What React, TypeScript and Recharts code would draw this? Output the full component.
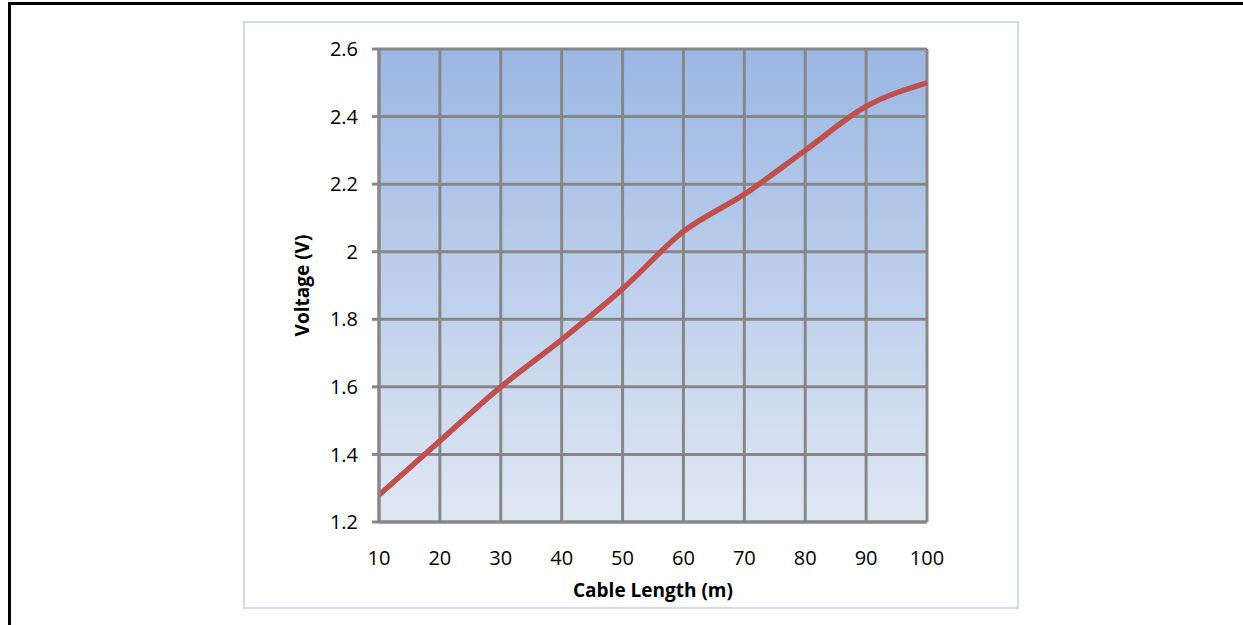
import { LineChart, Line, XAxis, YAxis, CartesianGrid, Label } from "recharts";

const cableLengths = [10, 20, 30, 40, 50, 60, 70, 80, 90, 100];
const voltages = [1.28, 1.44, 1.6, 1.74, 1.89, 2.06, 2.17, 2.3, 2.43, 2.5];
const xTicks = [10, 20, 30, 40, 50, 60, 70, 80, 90, 100];
const yTicks = [1.2, 1.4, 1.6, 1.8, 2, 2.2, 2.4, 2.6];

const data = cableLengths.map((len, i) => ({ len, v: voltages[i] }));

const FONT = "'Open Sans', sans-serif";
const GRID = "#878787";

function YTitle(props: any) {
  const vb = props.viewBox || {};
  const cx = vb.x + 3;
  const cy = vb.y + vb.height / 2;
  return (
    <text
      x={cx}
      y={cy}
      transform={`rotate(-90, ${cx}, ${cy})`}
      textAnchor="middle"
      dominantBaseline="central"
      fontFamily={FONT}
      fontWeight="bold"
      fontSize={19}
      fill="#000"
    >
      Voltage (V)
    </text>
  );
}

export default function App() {
  return (
    <div style={{ position: "absolute", left: 0, top: 0, width: 1243, height: 625, overflow: "hidden", background: "#fff" }}>
      {/* outer black frame */}
      <div
        style={{
          position: "absolute",
          left: 8,
          top: 2,
          width: 1260,
          height: 640,
          borderTop: "3px solid #000",
          borderLeft: "3px solid #000",
        }}
      />
      {/* chart box border */}
      <div
        style={{
          position: "absolute",
          left: 243,
          top: 21,
          width: 776,
          height: 588,
          boxSizing: "border-box",
          border: "2px solid #d3dbe7",
        }}
      />
      <div style={{ position: "absolute", left: 243, top: 21 }}>
        <LineChart width={776} height={588} data={data} margin={{ top: 28, right: 92, bottom: 27, left: 56 }}>
          <defs>
            <linearGradient id="plotBg" x1="0" y1="0" x2="0" y2="1">
              <stop offset="0%" stopColor="#9bb7e3" />
              <stop offset="100%" stopColor="#e0e7f3" />
            </linearGradient>
          </defs>
          <CartesianGrid stroke={GRID} strokeWidth={3} fill="url(#plotBg)" fillOpacity={1} />
          <XAxis
            dataKey="len"
            type="number"
            domain={[10, 100]}
            ticks={xTicks}
            height={60}
            axisLine={{ stroke: GRID, strokeWidth: 3 }}
            tickLine={false}
            tickSize={0}
            tickMargin={29}
            tick={{ fill: "#000", fontSize: 20, fontFamily: FONT }}
          >
            <Label
              value="Cable Length (m)"
              position="insideBottom"
              offset={-15}
              style={{ fill: "#000", fontSize: 19, fontWeight: "bold", fontFamily: FONT }}
            />
          </XAxis>
          <YAxis
            type="number"
            domain={[1.2, 2.6]}
            ticks={yTicks}
            width={80}
            tickFormatter={(v: number) => String(v)}
            axisLine={{ stroke: GRID, strokeWidth: 3 }}
            tickLine={{ stroke: GRID, strokeWidth: 3 }}
            tickSize={7}
            tickMargin={14}
            tick={{ fill: "#000", fontSize: 20, fontFamily: FONT }}
          >
            <Label content={<YTitle />} />
          </YAxis>
          <Line
            type="monotone"
            dataKey="v"
            stroke="#c0504d"
            strokeWidth={5.5}
            dot={false}
            activeDot={false}
            isAnimationActive={false}
          />
        </LineChart>
      </div>
    </div>
  );
}
